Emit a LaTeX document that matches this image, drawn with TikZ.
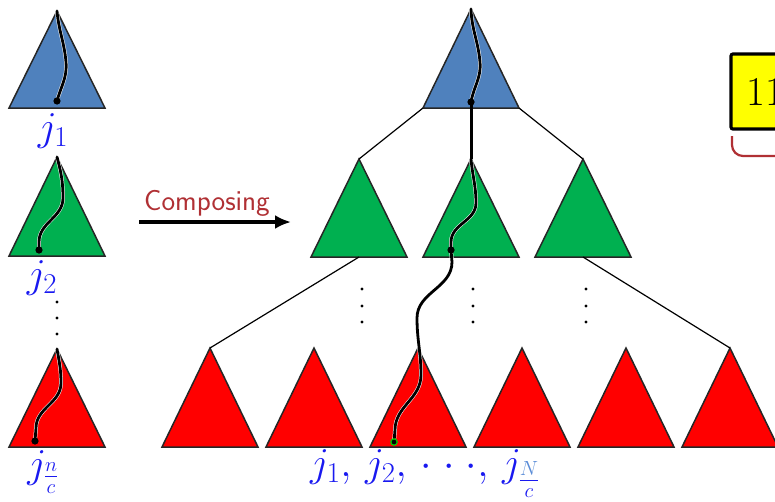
\RequirePackage{fix-cm}
\documentclass[tikz,border=0pt]{standalone}
\usepackage{fontspec}
\usetikzlibrary{arrows.meta}
\definecolor{tblue}{RGB}{79,129,189}
\definecolor{tgreen}{RGB}{0,176,80}
\definecolor{tred}{RGB}{255,0,0}
\definecolor{lblue}{RGB}{25,25,240}
\definecolor{nblue}{RGB}{90,140,215}
\definecolor{dkred}{RGB}{176,48,52}
\definecolor{tyellow}{RGB}{255,255,0}
\tikzset{
  tri/.style={draw=black!85, line width=1.5pt, line join=miter},
  treeline/.style={line width=1.2pt, black},
  halo/.style={line width=3.8pt, white, line cap=round},
  pathline/.style={line width=2.8pt, black, line cap=round},
  lbl/.style={text=lblue, font=\fontsize{41}{48}\selectfont, inner sep=0pt, anchor=base},
  edot/.style={fill=black},
}
\newcommand\mytri[5]{%
  \path (#2,#3) coordinate (#1-a) ++(-48,#4) coordinate (#1-l) ++(48,0) coordinate (#1-c) ++(48,0) coordinate (#1-r);
  \filldraw[tri, fill=#5] (#1-a) -- (#1-l) -- (#1-r) -- cycle;
}
\newcommand\wdots{\mathord{\cdotp}\mkern5mu\mathord{\cdotp}\mkern5mu\mathord{\cdotp}}
\begin{document}
\begin{tikzpicture}[x=1pt,y=-1pt]
\useasboundingbox (0,0) rectangle (775,501);
\clip (0,0) rectangle (775,501);
% left column
\mytri{L1}{57}{11}{97}{tblue}
\mytri{L2}{57}{157}{99}{tgreen}
\mytri{L3}{57}{349}{98}{tred}
% main tree
\mytri{B}{471}{9}{99}{tblue}
\mytri{G1}{359}{159}{98}{tgreen}
\mytri{G2}{471}{159}{98}{tgreen}
\mytri{G3}{583}{159}{98}{tgreen}
\mytri{R1}{210}{348}{99}{tred}
\mytri{R2}{314}{348}{99}{tred}
\mytri{R3}{418}{348}{99}{tred}
\mytri{R4}{522}{348}{99}{tred}
\mytri{R5}{626}{348}{99}{tred}
\mytri{R6}{730}{348}{99}{tred}
% tree connectors
\draw[treeline] (B-l) -- (G1-a);
\draw[treeline] (B-r) -- (G3-a);
\draw[treeline] (G1-c) -- (R1-a);
\draw[treeline] (G3-c) -- (R6-a);
% path end points
\coordinate (L1-e) at (57,101);
\coordinate (L2-e) at (39,250);
\coordinate (L3-e) at (35,441);
\coordinate (B-e) at (471,102);
\coordinate (G2-e) at (451,250);
\coordinate (R3-e) at (394,442);
% paths
\foreach \st in {halo,pathline}{
\draw[\st] (L1-a) to[out=-85,in=95] (66,62) to[out=-85,in=75] (L1-e);
\draw[\st] (L2-a) to[out=-75,in=90] (63,198) to[out=-90,in=90] (39,242) -- (L2-e);
\draw[\st] (L3-a) to[out=-80,in=90] (61,383) to[out=-90,in=90] (36,428) -- (L3-e);
\draw[\st] (B-a) to[out=-88,in=95] (480,62) to[out=-85,in=80] (B-e);
\draw[\st] (G2-a) to[out=-85,in=90] (476,203) to[out=-90,in=90] (451,242) -- (G2-e);
\draw[\st] (G2-e) -- (452,262) to[out=-90,in=90] (417,318) to[out=-90,in=90] (421,375) to[out=-90,in=90] (395,430) -- (R3-e);
}
\draw[line width=3pt] (B-e) -- (G2-a);
\fill[edot] (L1-e) circle[radius=3.6pt];
\fill[edot] (L2-e) circle[radius=3.6pt];
\fill[edot] (L3-e) circle[radius=3.6pt];
\fill[edot] (B-e) circle[radius=3.6pt];
\fill[edot] (G2-e) circle[radius=3.6pt];
\filldraw[fill=black, draw=green!80!black, line width=1.2pt] (R3-e) circle[radius=3.2pt];
% vertical dots
\foreach \x in {362,473,586}{
  \foreach \y in {289,306,322}{ \fill (\x,\y) circle[radius=1.6pt]; }
}
\foreach \y in {302,318,334}{ \fill (57,\y) circle[radius=1.6pt]; }
% labels
\node[lbl] (j1) at (53,140) {$j_1$};
\node[lbl] (j2) at (42,287) {$j_2$};
\node[lbl] (jn) at (43,477) {$j_{\frac{n}{c}}$};
\node[lbl] (jall) at (425,476) {$j_1,\mkern3mu j_2,\mkern3mu \wdots,\mkern3mu j_{\frac{\color{nblue}N}{c}}$};
% composing arrow
\node[text=dkred, font=\sffamily\fontsize{29}{33}\selectfont, inner sep=0pt] (comp) at (207,203) {Composing};
\coordinate (arS) at (139,222);
\coordinate (arE) at (291,222);
\draw[line width=3.5pt, -{Latex[length=16pt,width=14pt]}] (arS) -- (arE);
% yellow box
\filldraw[fill=tyellow, draw=black, line width=3.2pt, rounded corners=2pt] (731,54) rectangle (820,129);
\node[anchor=west, inner sep=0pt, font=\fontsize{41}{48}\selectfont] (num) at (746,92) {11};
\draw[dkred, line width=2.2pt, rounded corners=11pt] (732,136) |- (820,156);
\end{tikzpicture}
\end{document}
